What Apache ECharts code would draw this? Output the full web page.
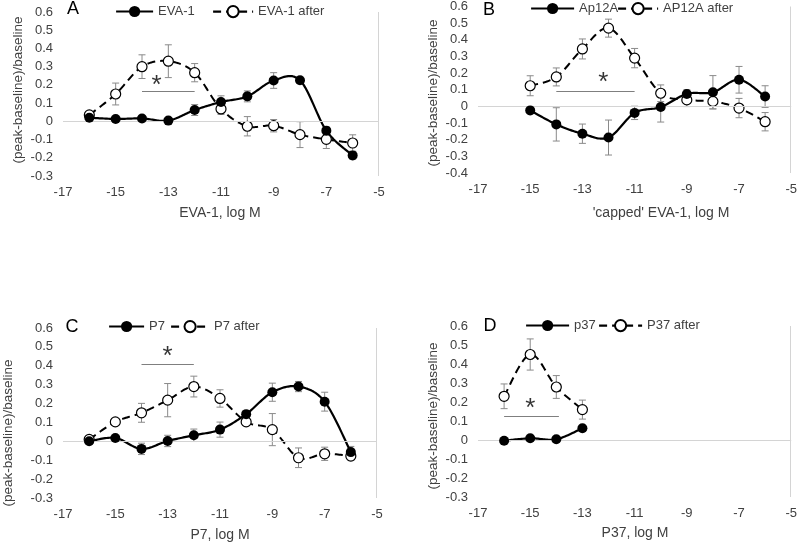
<!DOCTYPE html>
<html><head><meta charset="utf-8">
<script src="https://cdn.jsdelivr.net/npm/echarts@6/dist/echarts.min.js"></script>
<style>html,body{margin:0;padding:0;background:#fff}#c{width:800px;height:543px}</style>
</head><body><div id="c"></div><script>
// ---------- data ----------
const xTicks = [-17, -15, -13, -11, -9, -7, -5];
const xFull = [-16, -15, -14, -13, -12, -11, -10, -9, -8, -7, -6];
const xB = [-15, -14, -13, -12, -11, -10, -9, -8, -7, -6];
const xD = [-16, -15, -14, -13];

const evaMain = [0.02, 0.013, 0.016, 0.004, 0.062, 0.106, 0.137, 0.224, 0.225, -0.051, -0.187];
const evaMainErr = [0, 0, 0, 0, 0.03, 0.034, 0.03, 0.043, 0, 0.02, 0.02];
const evaAfter = [0.035, 0.15, 0.30, 0.33, 0.267, 0.068, -0.027, -0.024, -0.073, -0.099, -0.119];
const evaAfterErr = [0, 0.06, 0.065, 0.09, 0.05, 0.03, 0.053, 0.034, 0.071, 0.05, 0.045];

const apMain = [-0.024, -0.108, -0.164, -0.187, -0.039, -0.004, 0.075, 0.085, 0.16, 0.059];
const apMainErr = [0, 0.1, 0.058, 0.105, 0.04, 0.09, 0.025, 0.1, 0.08, 0.065];
const apAfter = [0.124, 0.177, 0.345, 0.47, 0.29, 0.079, 0.039, 0.03, -0.01, -0.092];
const apAfterErr = [0.06, 0.054, 0.06, 0.054, 0.058, 0.05, 0.04, 0.045, 0.058, 0.055];

const p7Main = [0.0, 0.018, -0.04, 0.002, 0.032, 0.062, 0.144, 0.26, 0.29, 0.21, -0.057];
const p7MainErr = [0, 0, 0.03, 0.03, 0.033, 0.04, 0, 0.048, 0.027, 0.05, 0.03];
const p7After = [0.01, 0.103, 0.151, 0.218, 0.29, 0.227, 0.103, 0.062, -0.087, -0.066, -0.078];
const p7AfterErr = [0, 0.012, 0.05, 0.088, 0.055, 0.046, 0, 0.085, 0.052, 0.035, 0.02];

const p37Main = [-0.004, 0.009, 0.004, 0.062];
const p37MainErr = [0, 0, 0, 0];
const p37After = [0.23, 0.45, 0.279, 0.16];
const p37AfterErr = [0.065, 0.082, 0.06, 0.05];

// significance bars: [xStart, xEnd, yLine, xStar, yStar]
const sigA = [-14, -12, 0.165, -13.45, 0.195];
const sigB = [-14, -11, 0.088, -12.2, 0.14];
const sigC = [-14, -12, 0.41, -13, 0.45];
const sigD = [-16, -13.9, 0.123, -15, 0.163];

const panels = [
  {letter:'A', names:['EVA-1','EVA-1 after'], xs:xFull, main:evaMain, mainErr:evaMainErr, after:evaAfter, afterErr:evaAfterErr, sig:sigA, yMin:-0.3,
   xTitle:'EVA-1, log M'},
  {letter:'B', names:['Ap12A','AP12A after'], xs:xB, main:apMain, mainErr:apMainErr, after:apAfter, afterErr:apAfterErr, sig:sigB, yMin:-0.4,
   xTitle:"'capped' EVA-1, log M"},
  {letter:'C', names:['P7','P7 after'], xs:xFull, main:p7Main, mainErr:p7MainErr, after:p7After, afterErr:p7AfterErr, sig:sigC, yMin:-0.3,
   xTitle:'P7, log M'},
  {letter:'D', names:['p37','P37 after'], xs:xD, main:p37Main, mainErr:p37MainErr, after:p37After, afterErr:p37AfterErr, sig:sigD, yMin:-0.3,
   xTitle:'P37, log M'}
];

// ---------- layout ----------
const layout = [
  {grid:{left:63, top:12, width:316, height:164}, leg:[[115,37],[212,40]], legTop:5, letter:[73,9], xT:[220,213], yT:[18,90]},
  {grid:{left:478, top:6, width:315, height:167}, leg:[[530,43],[617,40]], legTop:2, letter:[489,10], xT:[661,213], yT:[433,93]},
  {grid:{left:63, top:328, width:314, height:170}, leg:[[108,35],[170,38]], legTop:320, letter:[72,327], xT:[220,535], yT:[8,433]},
  {grid:{left:478, top:326, width:315, height:171}, leg:[[525,43],[598,43]], legTop:319, letter:[490,326], xT:[635,533], yT:[433,416]}
];

const FONT = '"Liberation Sans", Arial, sans-serif';
const TXT = '#404040';
const DASH = [8, 5];
const XMAX = xTicks[xTicks.length - 1];

function errRender(params, api) {
  const x = api.value(0), y = api.value(1), e = api.value(2);
  if (!e) return null;
  const a = api.coord([x, y + e]), b = api.coord([x, y - e]);
  const w = 3.5, st = {stroke:'#8a8a8a', lineWidth:1};
  return {type:'group', children:[
    {type:'line', shape:{x1:a[0], y1:a[1], x2:b[0], y2:b[1]}, style:st},
    {type:'line', shape:{x1:a[0]-w, y1:a[1], x2:a[0]+w, y2:a[1]}, style:st},
    {type:'line', shape:{x1:b[0]-w, y1:b[1], x2:b[0]+w, y2:b[1]}, style:st}
  ]};
}

// frame line at the right end of the x range (light grey, like the zero line)
function frameRender(yMin) {
  return function (params, api) {
    if (params.dataIndex !== 0) return null;
    const a = api.coord([XMAX, 0.6]), b = api.coord([XMAX, yMin]);
    const x = Math.round(a[0]) - 0.5;
    return {type:'line', shape:{x1:x, y1:a[1], x2:x, y2:b[1]}, style:{stroke:'#d4d4d4', lineWidth:1}};
  };
}

// Excel-style smoothed line (cardinal bezier through the data points, in pixel space)
function curveRender(xs, ys, width, dash) {
  return function (params, api) {
    if (params.dataIndex !== 0) return null;
    const P = xs.map((x, i) => api.coord([x, ys[i]]));
    const pts = [P[0]];
    for (let i = 0; i < P.length - 1; i++) {
      const p0 = P[i - 1] || P[i], p1 = P[i], p2 = P[i + 1], p3 = P[i + 2] || P[i + 1];
      const c1 = [p1[0] + (p2[0] - p0[0]) / 6, p1[1] + (p2[1] - p0[1]) / 6];
      const c2 = [p2[0] - (p3[0] - p1[0]) / 6, p2[1] - (p3[1] - p1[1]) / 6];
      for (let s = 1; s <= 20; s++) {
        const t = s / 20, u = 1 - t;
        pts.push([
          u*u*u*p1[0] + 3*u*u*t*c1[0] + 3*u*t*t*c2[0] + t*t*t*p2[0],
          u*u*u*p1[1] + 3*u*u*t*c1[1] + 3*u*t*t*c2[1] + t*t*t*p2[1]
        ]);
      }
    }
    return {type:'polyline', shape:{points:pts},
      style:{stroke:'#000', lineWidth:width, fill:null, lineDash:dash || null, lineJoin:'round'}};
  };
}

const grids = [], xAxes = [], yAxes = [], series = [], legends = [], graphics = [];
panels.forEach((p, k) => {
  const L = layout[k];
  grids.push(Object.assign({containLabel:false}, L.grid));
  xAxes.push({type:'value', gridIndex:k, min:xTicks[0], max:XMAX, interval:2,
    axisLine:{show:false}, axisTick:{show:false}, splitLine:{show:false},
    axisLabel:{margin:10, color:TXT, fontSize:13, fontFamily:FONT}});
  yAxes.push({type:'value', gridIndex:k, min:p.yMin, max:0.6, interval:0.1,
    axisLine:{show:false}, axisTick:{show:false}, splitLine:{show:false},
    axisLabel:{margin:10, color:TXT, fontSize:13, fontFamily:FONT,
      formatter: v => String(Math.round(v*10)/10)}});
  // right frame line
  series.push({type:'custom', xAxisIndex:k, yAxisIndex:k, renderItem:frameRender(p.yMin), z:1, silent:true, clip:false,
    encode:{x:0, y:1}, data:[[XMAX, 0.6]]});
  // error bars
  series.push({type:'custom', xAxisIndex:k, yAxisIndex:k, renderItem:errRender, z:2, silent:true,
    encode:{x:0, y:1}, data:p.xs.map((x,i)=>[x, p.after[i], p.afterErr[i]])});
  series.push({type:'custom', xAxisIndex:k, yAxisIndex:k, renderItem:errRender, z:2, silent:true,
    encode:{x:0, y:1}, data:p.xs.map((x,i)=>[x, p.main[i], p.mainErr[i]])});
  // smoothed lines
  series.push({type:'custom', xAxisIndex:k, yAxisIndex:k, z:3, silent:true, clip:false,
    renderItem:curveRender(p.xs, p.after, 2, DASH), encode:{x:0, y:1},
    data:p.xs.map((x,i)=>[x, p.after[i]])});
  series.push({type:'custom', xAxisIndex:k, yAxisIndex:k, z:3, silent:true, clip:false,
    renderItem:curveRender(p.xs, p.main, 2.2, null), encode:{x:0, y:1},
    data:p.xs.map((x,i)=>[x, p.main[i]])});
  // markers (and legend entries)
  series.push({type:'line', name:p.names[0], xAxisIndex:k, yAxisIndex:k, z:5, clip:false,
    data:p.xs.map((x,i)=>[x, p.main[i]]),
    symbol:'circle', symbolSize:10, itemStyle:{color:'#000'},
    lineStyle:{color:'#000', width:2.2, opacity:0},
    markLine:{silent:true, symbol:['none','none'], label:{show:false}, animation:false,
      lineStyle:{color:'#d4d4d4', type:'solid', width:1},
      data:[{yAxis:0},
        [{coord:[p.sig[0], p.sig[2]], lineStyle:{color:'#7f7f7f', width:1, type:'solid'}},
         {coord:[p.sig[1], p.sig[2]]}]]}});
  series.push({type:'line', name:p.names[1], xAxisIndex:k, yAxisIndex:k, z:4,
    data:p.xs.map((x,i)=>[x, p.after[i]]),
    symbol:'circle', symbolSize:10, itemStyle:{color:'#fff', borderColor:'#000', borderWidth:1.2},
    lineStyle:{color:'#000', width:2, type:DASH, opacity:0}});
  series.push({type:'scatter', xAxisIndex:k, yAxisIndex:k, z:6, silent:true, symbolSize:1,
    itemStyle:{color:'rgba(0,0,0,0)'},
    data:[[p.sig[3], p.sig[4]]],
    label:{show:true, position:'inside', formatter:'*', fontSize:26, color:'#000', fontFamily:FONT}});
  [0, 1].forEach(j => {
    legends.push({data:[p.names[j]], left:L.leg[j][0], top:L.legTop, padding:0,
      itemWidth:L.leg[j][1], itemHeight:14, selectedMode:false,
      lineStyle:{color:'#000', width:2.2, type: j ? DASH : 'solid', opacity:1},
      textStyle:{fontSize:13, color:TXT, fontFamily:FONT}});
  });
  graphics.push({type:'text', x:L.letter[0], y:L.letter[1],
    style:{text:p.letter, font:'18px ' + FONT, fill:'#000', align:'center', verticalAlign:'middle'}});
  graphics.push({type:'text', x:L.xT[0], y:L.xT[1],
    style:{text:p.xTitle, font:'14px ' + FONT, fill:TXT, align:'center', verticalAlign:'middle'}});
  graphics.push({type:'text', x:L.yT[0], y:L.yT[1], rotation:Math.PI/2,
    style:{text:'(peak-baseline)/baseline', font:'13.5px ' + FONT, fill:TXT, align:'center', verticalAlign:'middle'}});
});

const chart = echarts.init(document.getElementById('c'), null, {renderer:'canvas'});
chart.setOption({animation:false, backgroundColor:'#fff', grid:grids, xAxis:xAxes, yAxis:yAxes,
  legend:legends, series:series, graphic:graphics});
</script></body></html>
